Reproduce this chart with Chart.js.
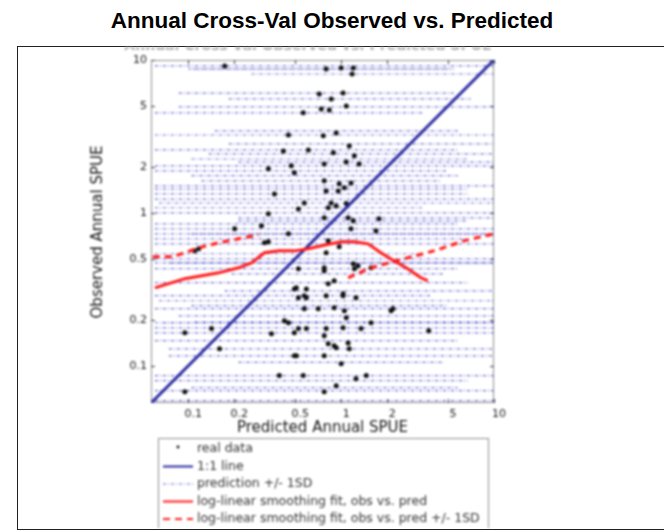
<!DOCTYPE html>
<html>
<head>
<meta charset="utf-8">
<script src="https://cdn.jsdelivr.net/npm/chart.js@4.4.1/dist/chart.umd.min.js"></script>
<style>
  html, body { margin: 0; padding: 0; background: #fff; width: 664px; height: 531px; overflow: hidden; }
  body { position: relative; }
  #title { position: absolute; left: 0; top: 8px; width: 664px; text-align: center;
           font: bold 22.5px "Liberation Sans", Arial, sans-serif; color: #000; }
  #frame { position: absolute; left: 17px; top: 46px; width: 660px; height: 484px;
           border: 1px solid #222; box-sizing: border-box; }
  #wrap { position: absolute; left: 18px; top: 47px; width: 644px; height: 481px; }
  #c { filter: blur(0.8px); }
</style>
</head>
<body>
<div id="title">Annual Cross-Val Observed vs. Predicted</div>
<div id="frame"></div>
<div id="wrap"><canvas id="c" width="644" height="481"></canvas></div>
<script>
// Log axes, shared by predicted (x) and observed (y)
const axisMin = 0.057;
const axisMax = 10;
const tickValues = [0.1, 0.2, 0.5, 1, 2, 5, 10];
const tickLabels = ['0.1', '0.2', '0.5', '1', '2', '5', '10'];

// Real data: predicted vs observed annual SPUE
const predicted = [0.173,0.798,1,1.20,1.18,0.719,1.03,0.861,0.741,0.836,
  1.08,0.565,0.452,0.764,0.928,0.419,0.610,0.89,1.13,1.08,
  1.31,0.775,0.472,0.334,0.494,1.22,0.366,0.574,0.334,
  0.525,0.301,0.201,0.117,0.334,0.525,0.775,0.509,0.592,0.775,
  0.971,1.05,1.16,0.798,0.956,0.861,1.08,0.823,0.928,0.775,
  1.11,1.20,1.77,1.16,1.69,0.823,0.971,0.798,0.775,1.20,
  1.29,1.57,1.22,0.900,0.823,0.452,0.315,0.110,0.494,0.592,
  0.574,0.425,0.452,0.525,0.592,0.0949,0.142,0.160,0.509,0.394,
  0.565,0.0949,0.798,1.03,1.25,0.900,1.05,1.08,2.12,1.57,
  0.798,1.03,1.35,3.74,0.775,0.823,0.928,1.11,1.13,0.775,
  1,1.25,1.46,0.928,0.775,
  2.18,0.350,0.494,0.494,0.708,0.574,0.525,1.03,0.900];
const observed = [9.14,8.73,8.87,8.87,8.10,5.99,6.09,5.56,4.78,4.71,
  5.00,4.51,3.23,3.19,3.33,2.54,2.58,2.47,2.74,2.15,
  2.09,2.09,2.03,1.94,1.83,2.36,1.33,1.16,0.985,
  1.06,0.822,0.786,0.582,0.647,0.431,0.418,0.323,0.318,1.62,
  1.55,1.46,1.57,1.39,1.39,1.16,1.15,1.08,1.11,0.928,
  0.928,0.887,0.914,0.786,0.763,0.656,0.600,0.548,0.437,0.464,
  0.451,0.437,0.431,0.360,0.343,0.729,0.637,0.565,0.318,0.278,
  0.236,0.197,0.191,0.175,0.175,0.164,0.175,0.129,0.116,0.0861,
  0.0861,0.0676,0.287,0.287,0.278,0.239,0.229,0.206,0.229,0.191,
  0.175,0.177,0.175,0.169,0.157,0.139,0.131,0.141,0.129,0.116,
  0.103,0.0822,0.0861,0.0740,0.0676,
  0.236,0.162,0.164,0.116,0.236,0.287,0.278,0.296,0.135];

// 1:1 reference line
const unityLine = [axisMin, axisMax];

// Log-linear smoothing fit, obs vs. pred
const fitX = [0.0605,0.0949,0.158,0.213,0.259,0.315,0.389,0.494,0.610,0.798,1,1.22,1.50,1.82,2.21,2.73,3.32,3.69];
const fitY = [0.323,0.371,0.405,0.437,0.471,0.548,0.564,0.564,0.582,0.618,0.646,0.646,0.627,0.548,0.486,0.431,0.376,0.360];
// Smoothing fit +/- 1SD
const fitUpperX = [0.0585,0.078,0.0949,0.117,0.158,0.213,0.288];
const fitUpperY = [0.516,0.516,0.548,0.591,0.637,0.676,0.718];
const fitLowerX = [1.11,1.57,2.57,4.28,6.33,10];
const fitLowerY = [0.376,0.437,0.500,0.573,0.656,0.729];

// Prediction +/- 1SD ranges at each observed level
const sdLevel = [9.14,8.73,8.73,8.10,6.08,5.56,4.93,4.51,3.44,3.23,
  2.83,2.58,2.43,2.25,2.15,2.03,1.88,1.75,1.62,1.50,
  1.43,1.33,1.23,1.16,1.08,1.0,0.928,0.887,0.847,0.786,
  0.729,0.729,0.676,0.627,0.540,0.500,0.471,0.471,0.431,0.399,
  0.349,0.309,0.287,0.266,0.247,0.236,0.212,0.191,0.191,0.193,
  0.177,0.164,0.146,0.129,0.116,0.105,0.0861,0.0798,0.0718,0.0687,0.0590];
const sdFrom = [0.0605,0.1,0.108,0.259,0.0867,0.184,0.0867,0.0605,0.149,0.0605,
  0.184,0.0605,0.136,0.105,0.213,0.0605,0.0605,0.105,0.122,0.0605,
  0.0605,0.0605,0.0605,0.0643,0.0605,0.0605,0.213,0.213,0.0605,0.0605,
  0.0605,0.105,0.0605,0.0605,0.0605,0.0605,0.0605,0.075,0.0605,0.192,
  0.0605,0.173,0.0605,0.0643,0.105,0.0605,0.0867,0.0605,0.068,0.11,
  0.0605,0.0605,0.0605,0.0746,0.0746,0.213,0.0605,0.0605,0.105,0.0605,0.0605];
const sdTo = [9.93,5.45,5.2,9.93,5.45,7.03,9.93,3.47,5.78,9.93,
  9.93,5.78,9.93,6.72,9.93,9.93,4.98,5.78,4.48,9.93,
  6.72,6.72,9.93,9.93,3.47,9.93,9.93,6.72,5.78,9.93,
  9.93,9.93,6.72,9.93,3.47,9.93,9.93,9.93,5.78,4.69,
  6.72,9.93,3.86,9.93,4.98,9.93,9.93,9.93,9.93,9.93,
  9.93,9.93,5.78,9.93,9.93,4.69,9.93,6.72,5.78,9.93,9.93];

const BLUE = '#2a2aa0';
const RED = '#ff1a1a';
const SD_BLUE = 'rgba(60,60,200,0.8)';

const datasets = [];
datasets.push({
  label: 'log-linear smoothing fit, obs vs. pred',
  data: fitX.map((x, i) => ({ x, y: fitY[i] })),
  showLine: true, pointRadius: 0, borderColor: RED, borderWidth: 3,
  order: 0, inLegend: 4
});
datasets.push({
  label: 'log-linear smoothing fit, obs vs. pred +/- 1SD',
  data: fitUpperX.map((x, i) => ({ x, y: fitUpperY[i] })),
  showLine: true, pointRadius: 0, borderColor: RED, borderWidth: 3, borderDash: [7, 5],
  order: 0, inLegend: 5
});
datasets.push({
  label: 'log-linear smoothing fit, obs vs. pred +/- 1SD',
  data: fitLowerX.map((x, i) => ({ x, y: fitLowerY[i] })),
  showLine: true, pointRadius: 0, borderColor: RED, borderWidth: 3, borderDash: [7, 5],
  order: 0
});
datasets.push({
  label: '1:1 line',
  data: unityLine.map(v => ({ x: v, y: v })),
  showLine: true, pointRadius: 0, borderColor: BLUE, borderWidth: 3,
  order: 1, inLegend: 2
});
datasets.push({
  label: 'real data',
  data: predicted.map((x, i) => ({ x, y: observed[i] })),
  showLine: false, pointRadius: 2.5, pointBorderWidth: 0,
  pointBackgroundColor: '#101010', borderColor: '#101010',
  order: 2, inLegend: 1
});
sdLevel.forEach((y, i) => {
  datasets.push({
    label: 'prediction +/- 1SD',
    data: [{ x: sdFrom[i], y }, { x: sdTo[i], y }],
    showLine: true, pointRadius: 0, borderColor: SD_BLUE, borderWidth: 1.2,
    borderDash: [3, 2, 1, 2], order: 3, inLegend: i === 0 ? 3 : 0
  });
});

const TEXT = '#151515';
const FONT = '"DejaVu Sans", "Liberation Sans", Arial, sans-serif';

const frameAndLabels = {
  id: 'frameAndLabels',
  beforeDatasetsDraw(chart) {
    const { ctx, chartArea: a, scales: { x, y } } = chart;
    ctx.save();
    ctx.strokeStyle = '#8c8c8c';
    ctx.lineWidth = 1;
    ctx.strokeRect(a.left + 0.5, a.top + 0.5, a.width - 1, a.height - 1);
    ctx.strokeStyle = '#3a3a3a';
    ctx.beginPath();
    tickValues.forEach(v => {
      const px = Math.round(x.getPixelForValue(v)) + 0.5;
      ctx.moveTo(px, a.top); ctx.lineTo(px, a.top + 4);
      ctx.moveTo(px, a.bottom); ctx.lineTo(px, a.bottom - 4);
      const py = Math.round(y.getPixelForValue(v)) + 0.5;
      ctx.moveTo(a.left, py); ctx.lineTo(a.left + 4, py);
      ctx.moveTo(a.right, py); ctx.lineTo(a.right - 4, py);
    });
    ctx.stroke();
    ctx.restore();
  },
  afterDraw(chart) {
    const { ctx, chartArea: a } = chart;
    ctx.save();
    // partly hidden heading of the inner figure
    ctx.fillStyle = '#aaaaaa';
    ctx.font = 'bold 14px ' + FONT;
    ctx.textAlign = 'center';
    ctx.textBaseline = 'alphabetic';
    ctx.fillText('Annual Cross-Val Observed vs. Predicted SPUE', 290, 3);

    // axis titles
    ctx.fillStyle = TEXT;
    ctx.font = '15px ' + FONT;
    ctx.textBaseline = 'middle';
    ctx.fillText('Predicted Annual SPUE', (a.left + a.right) / 2, a.bottom + 25);
    ctx.translate(80, 185);
    ctx.rotate(-Math.PI / 2);
    ctx.fillText('Observed Annual SPUE', 0, 0);
    ctx.restore();

    // legend
    ctx.save();
    const lx = 140, ly = 391, lw = 330, rowH = 17.5;
    ctx.strokeStyle = '#8c8c8c';
    ctx.lineWidth = 1;
    ctx.strokeRect(lx + 0.5, ly + 0.5, lw, 200);
    const items = chart.data.datasets.filter(d => d.inLegend).sort((p, q) => p.inLegend - q.inLegend);
    ctx.font = '12.5px ' + FONT;
    ctx.textBaseline = 'middle';
    ctx.textAlign = 'left';
    items.forEach((d, i) => {
      const cy = ly + 11 + i * rowH;
      if (d.showLine) {
        ctx.strokeStyle = d.borderColor;
        ctx.lineWidth = d.borderWidth < 2 ? 1 : 2;
        ctx.setLineDash(d.borderDash || []);
        ctx.beginPath();
        ctx.moveTo(lx + 5, cy); ctx.lineTo(lx + 35, cy);
        ctx.stroke();
        ctx.setLineDash([]);
      } else {
        ctx.fillStyle = d.pointBackgroundColor;
        ctx.beginPath();
        ctx.arc(lx + 20, cy - 2, 1.4, 0, Math.PI * 2);
        ctx.fill();
      }
      ctx.fillStyle = '#333';
      ctx.fillText(d.label, lx + 39, cy);
    });
    ctx.restore();
  }
};

const tickFont = { family: FONT, size: 11 };

new Chart(document.getElementById('c'), {
  type: 'scatter',
  data: { datasets },
  options: {
    responsive: false,
    animation: false,
    devicePixelRatio: 1,
    layout: { padding: { left: 93, top: 13, right: 168, bottom: 100 } },
    plugins: { legend: { display: false }, tooltip: { enabled: false } },
    scales: {
      x: {
        type: 'logarithmic', min: axisMin, max: axisMax,
        afterBuildTicks: s => { s.ticks = tickValues.map(v => ({ value: v })); },
        afterFit: s => { s.height = 25; },
        grid: { display: false, drawTicks: false },
        border: { display: false },
        ticks: { autoSkip: false, maxRotation: 0, padding: 5, labelOffset: 5,
                 font: tickFont, color: TEXT, callback: (v, i) => tickLabels[i] }
      },
      y: {
        type: 'logarithmic', min: axisMin, max: axisMax,
        afterBuildTicks: s => { s.ticks = tickValues.map(v => ({ value: v })); },
        afterFit: s => { s.width = 40; },
        grid: { display: false, drawTicks: false },
        border: { display: false },
        ticks: { autoSkip: false, padding: 4, font: tickFont, color: TEXT,
                 callback: (v, i) => tickLabels[i] }
      }
    }
  },
  plugins: [frameAndLabels]
});
</script>
</body>
</html>
